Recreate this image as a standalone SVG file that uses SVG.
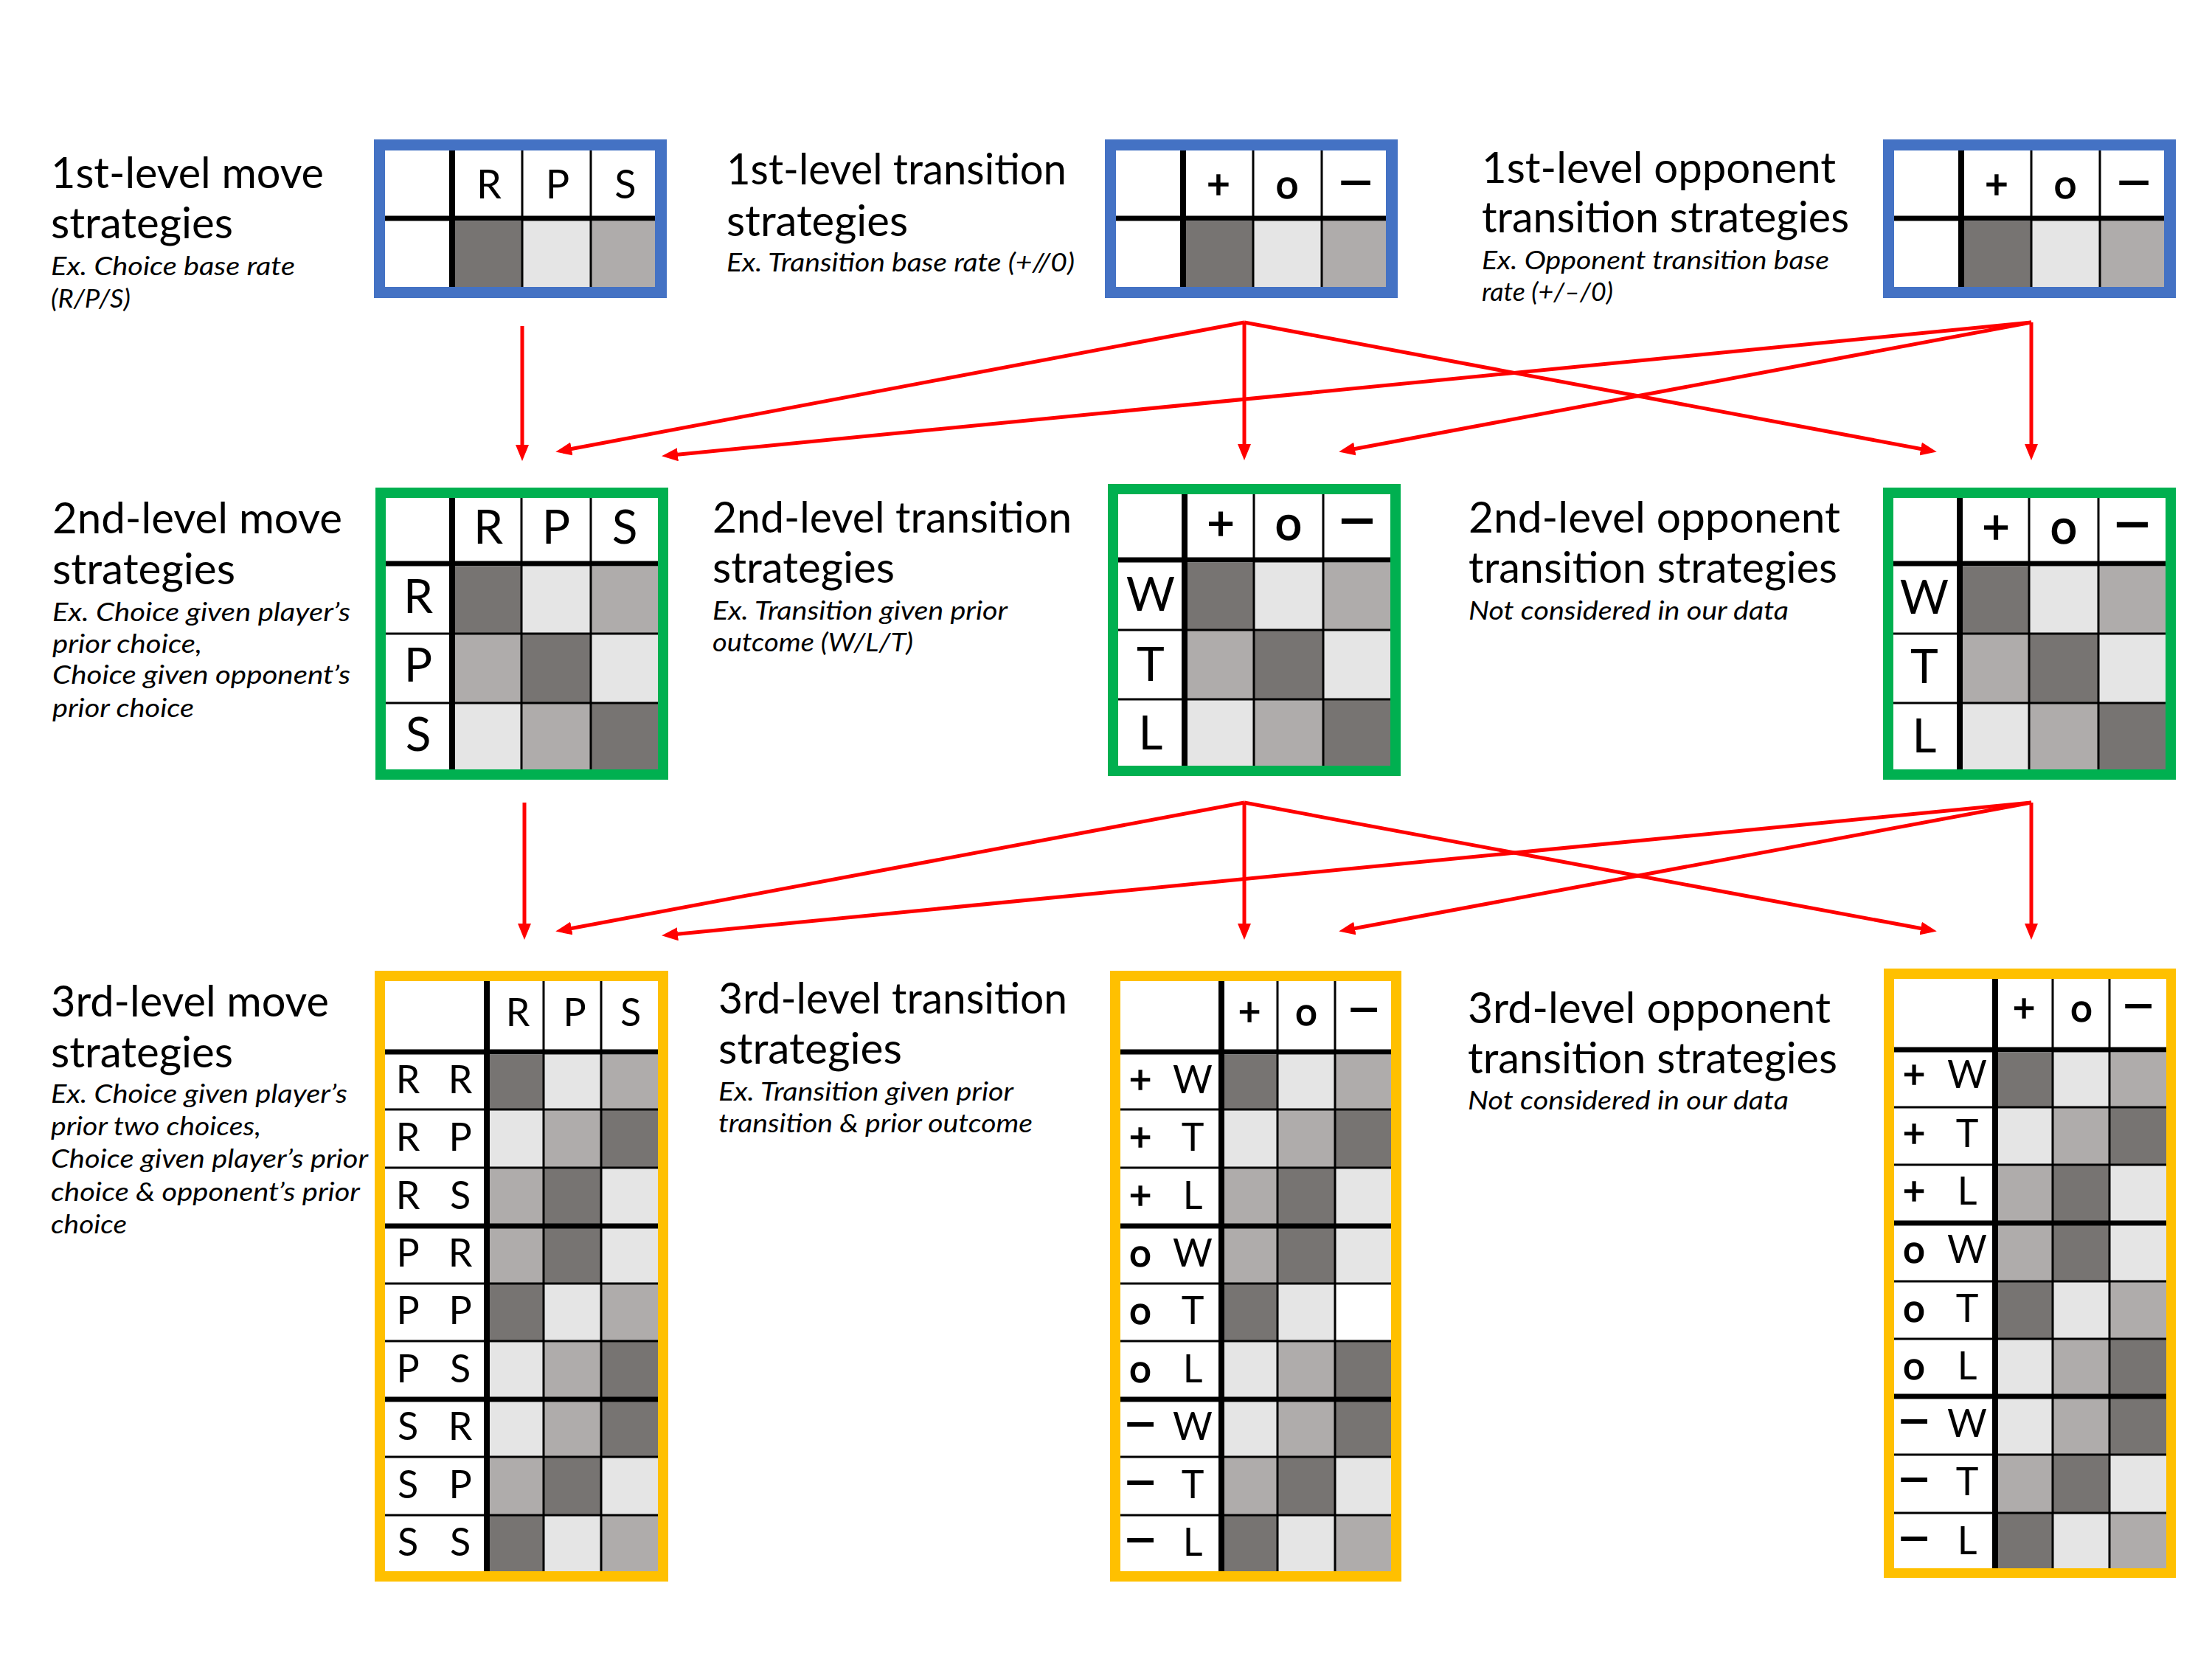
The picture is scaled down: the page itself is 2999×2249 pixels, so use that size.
<svg xmlns="http://www.w3.org/2000/svg" width="2999" height="2249" viewBox="0 0 2999 2249">
<style>
.t{font-family:Lato,"Open Sans","Liberation Sans",sans-serif;font-size:58px;fill:#000}
.s{font-family:Lato,"Open Sans","Liberation Sans",sans-serif;font-size:35px;font-style:italic;fill:#000}
.h1{font-family:Lato,"Open Sans","Liberation Sans",sans-serif;font-size:54px;text-anchor:middle;fill:#000}
.h2{font-family:Lato,"Open Sans","Liberation Sans",sans-serif;font-size:64px;text-anchor:middle;fill:#000}
.h3{font-family:Lato,"Open Sans","Liberation Sans",sans-serif;font-size:52px;text-anchor:middle;fill:#000}
.sym{stroke:#000;stroke-width:1.5}
.blue{fill:#4472C4}.green{fill:#00B050}.yellow{fill:#FFC000}
.w{fill:#fff}.dk{fill:#777472}.lt{fill:#E5E5E5}.md{fill:#AFACAB}
.thin{stroke:#000;stroke-width:3}
.thick{stroke:#000;stroke-width:7}
.vthick{stroke:#000;stroke-width:8}
.arr{stroke:#FF0000;stroke-width:5;fill:none;marker-end:url(#ah)}
</style>
<defs>
<marker id="ah" markerUnits="userSpaceOnUse" markerWidth="22" markerHeight="18" refX="8" refY="9" orient="auto">
<path d="M0,0 L22,9 L0,18 z" fill="#FF0000"/>
</marker>
</defs>
<rect width="2999" height="2249" fill="#fff"/>

<!-- Row 1 labels -->
<g id="label-1-move">
<text class="t" x="69" y="255" textLength="370" lengthAdjust="spacingAndGlyphs">1st-level move</text>
<text class="t" x="69" y="323" textLength="247" lengthAdjust="spacingAndGlyphs">strategies</text>
<text class="s" x="69" y="373" textLength="331" lengthAdjust="spacingAndGlyphs">Ex. Choice base rate</text>
<text class="s" x="69" y="417" textLength="108" lengthAdjust="spacingAndGlyphs">(R/P/S)</text>
</g>
<g id="label-1-transition">
<text class="t" x="985" y="250" textLength="461" lengthAdjust="spacingAndGlyphs">1st-level transition</text>
<text class="t" x="985" y="320" textLength="246" lengthAdjust="spacingAndGlyphs">strategies</text>
<text class="s" x="985" y="368" textLength="472" lengthAdjust="spacingAndGlyphs">Ex. Transition base rate (+//0)</text>
</g>
<g id="label-1-opponent">
<text class="t" x="2009" y="248" textLength="480" lengthAdjust="spacingAndGlyphs">1st-level opponent</text>
<text class="t" x="2009" y="315" textLength="498" lengthAdjust="spacingAndGlyphs">transition strategies</text>
<text class="s" x="2009" y="365" textLength="471" lengthAdjust="spacingAndGlyphs">Ex. Opponent transition base</text>
<text class="s" x="2009" y="408" textLength="178" lengthAdjust="spacingAndGlyphs">rate (+/–/0)</text>
</g>

<!-- Row 1 tables -->
<g id="table-1-move" transform="translate(507,189)">
<rect class="blue" width="397" height="215"/><rect class="w" x="15" y="15" width="366" height="185"/>
<rect class="dk" x="110" y="111" width="91" height="89"/><rect class="lt" x="201" y="111" width="93" height="89"/><rect class="md" x="294" y="111" width="87" height="89"/>
<line class="thin" x1="201" y1="15" x2="201" y2="200"/><line class="thin" x1="294" y1="15" x2="294" y2="200"/>
<line class="vthick" x1="106" y1="15" x2="106" y2="200"/><line class="thick" x1="15" y1="107" x2="381" y2="107"/>
<text class="h1" x="156" y="80">R</text><text class="h1" x="249" y="80">P</text><text class="h1" x="341" y="80">S</text>
</g>
<g id="table-1-transition" transform="translate(1498,189)">
<rect class="blue" width="397" height="215"/><rect class="w" x="15" y="15" width="366" height="185"/>
<rect class="dk" x="110" y="111" width="91" height="89"/><rect class="lt" x="201" y="111" width="93" height="89"/><rect class="md" x="294" y="111" width="87" height="89"/>
<line class="thin" x1="201" y1="15" x2="201" y2="200"/><line class="thin" x1="294" y1="15" x2="294" y2="200"/>
<line class="vthick" x1="106" y1="15" x2="106" y2="200"/><line class="thick" x1="15" y1="107" x2="381" y2="107"/>
<text class="h1 sym" x="154" y="80">+</text><text class="h1 sym" x="247" y="80">o</text><text class="h1 sym" transform="translate(340,80) scale(1.6,1.2)">−</text>
</g>
<g id="table-1-opponent" transform="translate(2553,189)">
<rect class="blue" width="397" height="215"/><rect class="w" x="15" y="15" width="366" height="185"/>
<rect class="dk" x="110" y="111" width="91" height="89"/><rect class="lt" x="201" y="111" width="93" height="89"/><rect class="md" x="294" y="111" width="87" height="89"/>
<line class="thin" x1="201" y1="15" x2="201" y2="200"/><line class="thin" x1="294" y1="15" x2="294" y2="200"/>
<line class="vthick" x1="106" y1="15" x2="106" y2="200"/><line class="thick" x1="15" y1="107" x2="381" y2="107"/>
<text class="h1 sym" x="154" y="80">+</text><text class="h1 sym" x="247" y="80">o</text><text class="h1 sym" transform="translate(340,80) scale(1.6,1.2)">−</text>
</g>

<!-- Row 2 labels -->
<g id="label-2-move">
<text class="t" x="71" y="723" textLength="393" lengthAdjust="spacingAndGlyphs">2nd-level move</text>
<text class="t" x="71" y="792" textLength="248" lengthAdjust="spacingAndGlyphs">strategies</text>
<text class="s" x="71" y="842" textLength="404" lengthAdjust="spacingAndGlyphs">Ex. Choice given player’s</text>
<text class="s" x="71" y="885" textLength="203" lengthAdjust="spacingAndGlyphs">prior choice,</text>
<text class="s" x="71" y="927" textLength="404" lengthAdjust="spacingAndGlyphs">Choice given opponent’s</text>
<text class="s" x="71" y="972" textLength="192" lengthAdjust="spacingAndGlyphs">prior choice</text>
</g>
<g id="label-2-transition">
<text class="t" x="966" y="722" textLength="487" lengthAdjust="spacingAndGlyphs">2nd-level transition</text>
<text class="t" x="966" y="790" textLength="247" lengthAdjust="spacingAndGlyphs">strategies</text>
<text class="s" x="966" y="840" textLength="400" lengthAdjust="spacingAndGlyphs">Ex. Transition given prior</text>
<text class="s" x="966" y="883" textLength="272" lengthAdjust="spacingAndGlyphs">outcome (W/L/T)</text>
</g>
<g id="label-2-opponent">
<text class="t" x="1991" y="722" textLength="504" lengthAdjust="spacingAndGlyphs">2nd-level opponent</text>
<text class="t" x="1991" y="790" textLength="500" lengthAdjust="spacingAndGlyphs">transition strategies</text>
<text class="s" x="1991" y="840" textLength="434" lengthAdjust="spacingAndGlyphs">Not considered in our data</text>
</g>

<!-- Row 2 tables -->
<g id="table-2-move" transform="translate(509,661)">
<rect class="green" width="397" height="396"/><rect class="w" x="14" y="14" width="369" height="368"/>
<rect class="dk" x="108" y="107" width="90" height="91"/><rect class="lt" x="198" y="107" width="94" height="91"/><rect class="md" x="292" y="107" width="91" height="91"/>
<rect class="md" x="108" y="198" width="90" height="94"/><rect class="dk" x="198" y="198" width="94" height="94"/><rect class="lt" x="292" y="198" width="91" height="94"/>
<rect class="lt" x="108" y="292" width="90" height="90"/><rect class="md" x="198" y="292" width="94" height="90"/><rect class="dk" x="292" y="292" width="91" height="90"/>
<line class="thin" x1="198" y1="14" x2="198" y2="382"/><line class="thin" x1="292" y1="14" x2="292" y2="382"/>
<line class="thin" x1="14" y1="198" x2="383" y2="198"/><line class="thin" x1="14" y1="292" x2="383" y2="292"/>
<line class="vthick" x1="104" y1="14" x2="104" y2="382"/><line class="thick" x1="14" y1="103" x2="383" y2="103"/>
<text class="h2" x="153" y="76">R</text><text class="h2" x="245" y="76">P</text><text class="h2" x="338" y="76">S</text>
<text class="h2" x="58" y="170">R</text><text class="h2" x="58" y="263">P</text><text class="h2" x="58" y="357">S</text>
</g>
<g id="table-2-transition" transform="translate(1502,656)">
<rect class="green" width="397" height="396"/><rect class="w" x="14" y="14" width="369" height="368"/>
<rect class="dk" x="108" y="107" width="90" height="91"/><rect class="lt" x="198" y="107" width="94" height="91"/><rect class="md" x="292" y="107" width="91" height="91"/>
<rect class="md" x="108" y="198" width="90" height="94"/><rect class="dk" x="198" y="198" width="94" height="94"/><rect class="lt" x="292" y="198" width="91" height="94"/>
<rect class="lt" x="108" y="292" width="90" height="90"/><rect class="md" x="198" y="292" width="94" height="90"/><rect class="dk" x="292" y="292" width="91" height="90"/>
<line class="thin" x1="198" y1="14" x2="198" y2="382"/><line class="thin" x1="292" y1="14" x2="292" y2="382"/>
<line class="thin" x1="14" y1="198" x2="383" y2="198"/><line class="thin" x1="14" y1="292" x2="383" y2="292"/>
<line class="vthick" x1="104" y1="14" x2="104" y2="382"/><line class="thick" x1="14" y1="103" x2="383" y2="103"/>
<text class="h2 sym" x="153" y="76">+</text><text class="h2 sym" x="245" y="76">o</text><text class="h2 sym" transform="translate(338,76) scale(1.45,1.2)">−</text>
<text class="h2" x="58" y="172">W</text><text class="h2" x="58" y="267">T</text><text class="h2" x="58" y="360">L</text>
</g>
<g id="table-2-opponent" transform="translate(2553,661)">
<rect class="green" width="397" height="396"/><rect class="w" x="14" y="14" width="369" height="368"/>
<rect class="dk" x="108" y="107" width="90" height="91"/><rect class="lt" x="198" y="107" width="94" height="91"/><rect class="md" x="292" y="107" width="91" height="91"/>
<rect class="md" x="108" y="198" width="90" height="94"/><rect class="dk" x="198" y="198" width="94" height="94"/><rect class="lt" x="292" y="198" width="91" height="94"/>
<rect class="lt" x="108" y="292" width="90" height="90"/><rect class="md" x="198" y="292" width="94" height="90"/><rect class="dk" x="292" y="292" width="91" height="90"/>
<line class="thin" x1="198" y1="14" x2="198" y2="382"/><line class="thin" x1="292" y1="14" x2="292" y2="382"/>
<line class="thin" x1="14" y1="198" x2="383" y2="198"/><line class="thin" x1="14" y1="292" x2="383" y2="292"/>
<line class="vthick" x1="104" y1="14" x2="104" y2="382"/><line class="thick" x1="14" y1="103" x2="383" y2="103"/>
<text class="h2 sym" x="153" y="76">+</text><text class="h2 sym" x="245" y="76">o</text><text class="h2 sym" transform="translate(338,76) scale(1.45,1.2)">−</text>
<text class="h2" x="56" y="171">W</text><text class="h2" x="56" y="265">T</text><text class="h2" x="56" y="359">L</text>
</g>

<!-- Row 3 labels -->
<g id="label-3-move">
<text class="t" x="69" y="1378" textLength="377" lengthAdjust="spacingAndGlyphs">3rd-level move</text>
<text class="t" x="69" y="1447" textLength="247" lengthAdjust="spacingAndGlyphs">strategies</text>
<text class="s" x="69" y="1495" textLength="402" lengthAdjust="spacingAndGlyphs">Ex. Choice given player’s</text>
<text class="s" x="69" y="1539" textLength="285" lengthAdjust="spacingAndGlyphs">prior two choices,</text>
<text class="s" x="69" y="1583" textLength="430" lengthAdjust="spacingAndGlyphs">Choice given player’s prior</text>
<text class="s" x="69" y="1628" textLength="419" lengthAdjust="spacingAndGlyphs">choice &amp; opponent’s prior</text>
<text class="s" x="69" y="1672" textLength="103" lengthAdjust="spacingAndGlyphs">choice</text>
</g>
<g id="label-3-transition">
<text class="t" x="974" y="1374" textLength="473" lengthAdjust="spacingAndGlyphs">3rd-level transition</text>
<text class="t" x="974" y="1442" textLength="249" lengthAdjust="spacingAndGlyphs">strategies</text>
<text class="s" x="974" y="1492" textLength="400" lengthAdjust="spacingAndGlyphs">Ex. Transition given prior</text>
<text class="s" x="974" y="1535" textLength="426" lengthAdjust="spacingAndGlyphs">transition &amp; prior outcome</text>
</g>
<g id="label-3-opponent">
<text class="t" x="1990" y="1387" textLength="492" lengthAdjust="spacingAndGlyphs">3rd-level opponent</text>
<text class="t" x="1990" y="1455" textLength="501" lengthAdjust="spacingAndGlyphs">transition strategies</text>
<text class="s" x="1990" y="1504" textLength="435" lengthAdjust="spacingAndGlyphs">Not considered in our data</text>
</g>

<!-- Row 3 tables -->
<g id="table-3-move" transform="translate(508,1316)">
<rect class="yellow" width="398" height="828"/><rect class="w" x="14" y="14" width="370" height="800"/>
<rect class="dk" x="156" y="114" width="73" height="74"/><rect class="lt" x="229" y="114" width="78" height="74"/><rect class="md" x="307" y="114" width="77" height="74"/>
<rect class="lt" x="156" y="188" width="73" height="79"/><rect class="md" x="229" y="188" width="78" height="79"/><rect class="dk" x="307" y="188" width="77" height="79"/>
<rect class="md" x="156" y="267" width="73" height="79"/><rect class="dk" x="229" y="267" width="78" height="79"/><rect class="lt" x="307" y="267" width="77" height="79"/>
<rect class="md" x="156" y="346" width="73" height="78"/><rect class="dk" x="229" y="346" width="78" height="78"/><rect class="lt" x="307" y="346" width="77" height="78"/>
<rect class="dk" x="156" y="424" width="73" height="78"/><rect class="lt" x="229" y="424" width="78" height="78"/><rect class="md" x="307" y="424" width="77" height="78"/>
<rect class="lt" x="156" y="502" width="73" height="79"/><rect class="md" x="229" y="502" width="78" height="79"/><rect class="dk" x="307" y="502" width="77" height="79"/>
<rect class="lt" x="156" y="581" width="73" height="78"/><rect class="md" x="229" y="581" width="78" height="78"/><rect class="dk" x="307" y="581" width="77" height="78"/>
<rect class="md" x="156" y="659" width="73" height="79"/><rect class="dk" x="229" y="659" width="78" height="79"/><rect class="lt" x="307" y="659" width="77" height="79"/>
<rect class="dk" x="156" y="738" width="73" height="76"/><rect class="lt" x="229" y="738" width="78" height="76"/><rect class="md" x="307" y="738" width="77" height="76"/>
<line class="thin" x1="229" y1="14" x2="229" y2="814"/><line class="thin" x1="307" y1="14" x2="307" y2="814"/>
<line class="thin" x1="14" y1="188" x2="384" y2="188"/><line class="thin" x1="14" y1="267" x2="384" y2="267"/>
<line class="thin" x1="14" y1="424" x2="384" y2="424"/><line class="thin" x1="14" y1="502" x2="384" y2="502"/>
<line class="thin" x1="14" y1="659" x2="384" y2="659"/><line class="thin" x1="14" y1="738" x2="384" y2="738"/>
<line class="thick" x1="14" y1="346" x2="384" y2="346"/><line class="thick" x1="14" y1="581" x2="384" y2="581"/>
<line class="vthick" x1="152" y1="14" x2="152" y2="814"/><line class="thick" x1="14" y1="110" x2="384" y2="110"/>
<text class="h3" x="194" y="75">R</text><text class="h3" x="271" y="75">P</text><text class="h3" x="347" y="75">S</text>
<text class="h3" x="45" y="166">R</text><text class="h3" x="116" y="166">R</text>
<text class="h3" x="45" y="244">R</text><text class="h3" x="116" y="244">P</text>
<text class="h3" x="45" y="323">R</text><text class="h3" x="116" y="323">S</text>
<text class="h3" x="45" y="401">P</text><text class="h3" x="116" y="401">R</text>
<text class="h3" x="45" y="479">P</text><text class="h3" x="116" y="479">P</text>
<text class="h3" x="45" y="558">P</text><text class="h3" x="116" y="558">S</text>
<text class="h3" x="45" y="636">S</text><text class="h3" x="116" y="636">R</text>
<text class="h3" x="45" y="715">S</text><text class="h3" x="116" y="715">P</text>
<text class="h3" x="45" y="793">S</text><text class="h3" x="116" y="793">S</text>
</g>
<g id="table-3-transition" transform="translate(1505,1316)">
<rect class="yellow" width="395" height="828"/><rect class="w" x="14" y="14" width="367" height="800"/>
<rect class="dk" x="155" y="114" width="72" height="74"/><rect class="lt" x="227" y="114" width="78" height="74"/><rect class="md" x="305" y="114" width="76" height="74"/>
<rect class="lt" x="155" y="188" width="72" height="79"/><rect class="md" x="227" y="188" width="78" height="79"/><rect class="dk" x="305" y="188" width="76" height="79"/>
<rect class="md" x="155" y="267" width="72" height="79"/><rect class="dk" x="227" y="267" width="78" height="79"/><rect class="lt" x="305" y="267" width="76" height="79"/>
<rect class="md" x="155" y="346" width="72" height="78"/><rect class="dk" x="227" y="346" width="78" height="78"/><rect class="lt" x="305" y="346" width="76" height="78"/>
<rect class="dk" x="155" y="424" width="72" height="78"/><rect class="lt" x="227" y="424" width="78" height="78"/><rect class="w" x="305" y="424" width="76" height="78"/>
<rect class="lt" x="155" y="502" width="72" height="79"/><rect class="md" x="227" y="502" width="78" height="79"/><rect class="dk" x="305" y="502" width="76" height="79"/>
<rect class="lt" x="155" y="581" width="72" height="78"/><rect class="md" x="227" y="581" width="78" height="78"/><rect class="dk" x="305" y="581" width="76" height="78"/>
<rect class="md" x="155" y="659" width="72" height="79"/><rect class="dk" x="227" y="659" width="78" height="79"/><rect class="lt" x="305" y="659" width="76" height="79"/>
<rect class="dk" x="155" y="738" width="72" height="76"/><rect class="lt" x="227" y="738" width="78" height="76"/><rect class="md" x="305" y="738" width="76" height="76"/>
<line class="thin" x1="227" y1="14" x2="227" y2="814"/><line class="thin" x1="305" y1="14" x2="305" y2="814"/>
<line class="thin" x1="14" y1="188" x2="381" y2="188"/><line class="thin" x1="14" y1="267" x2="381" y2="267"/>
<line class="thin" x1="14" y1="424" x2="381" y2="424"/><line class="thin" x1="14" y1="502" x2="381" y2="502"/>
<line class="thin" x1="14" y1="659" x2="381" y2="659"/><line class="thin" x1="14" y1="738" x2="381" y2="738"/>
<line class="thick" x1="14" y1="346" x2="381" y2="346"/><line class="thick" x1="14" y1="581" x2="381" y2="581"/>
<line class="vthick" x1="151" y1="14" x2="151" y2="814"/><line class="thick" x1="14" y1="110" x2="381" y2="110"/>
<text class="h3 sym" x="189" y="74">+</text><text class="h3 sym" x="266" y="74">o</text><text class="h3 sym" transform="translate(344,74) scale(1.5,1.2)">−</text>
<text class="h3 sym" x="41" y="166">+</text><text class="h3" x="112" y="166">W</text>
<text class="h3 sym" x="41" y="244">+</text><text class="h3" x="112" y="244">T</text>
<text class="h3 sym" x="41" y="323">+</text><text class="h3" x="112" y="323">L</text>
<text class="h3 sym" x="41" y="401">o</text><text class="h3" x="112" y="401">W</text>
<text class="h3 sym" x="41" y="479">o</text><text class="h3" x="112" y="479">T</text>
<text class="h3 sym" x="41" y="558">o</text><text class="h3" x="112" y="558">L</text>
<text class="h3 sym" transform="translate(41,636) scale(1.5,1.2)">−</text><text class="h3" x="112" y="636">W</text>
<text class="h3 sym" transform="translate(41,715) scale(1.5,1.2)">−</text><text class="h3" x="112" y="715">T</text>
<text class="h3 sym" transform="translate(41,793) scale(1.5,1.2)">−</text><text class="h3" x="112" y="793">L</text>
</g>
<g id="table-3-opponent" transform="translate(2554,1313)">
<rect class="yellow" width="396" height="826"/><rect class="w" x="14" y="14" width="369" height="799"/>
<rect class="dk" x="155" y="114" width="74" height="74"/><rect class="lt" x="229" y="114" width="77" height="74"/><rect class="md" x="306" y="114" width="77" height="74"/>
<rect class="lt" x="155" y="188" width="74" height="78"/><rect class="md" x="229" y="188" width="77" height="78"/><rect class="dk" x="306" y="188" width="77" height="78"/>
<rect class="md" x="155" y="266" width="74" height="79"/><rect class="dk" x="229" y="266" width="77" height="79"/><rect class="lt" x="306" y="266" width="77" height="79"/>
<rect class="md" x="155" y="345" width="74" height="79"/><rect class="dk" x="229" y="345" width="77" height="79"/><rect class="lt" x="306" y="345" width="77" height="79"/>
<rect class="dk" x="155" y="424" width="74" height="78"/><rect class="lt" x="229" y="424" width="77" height="78"/><rect class="md" x="306" y="424" width="77" height="78"/>
<rect class="lt" x="155" y="502" width="74" height="78"/><rect class="md" x="229" y="502" width="77" height="78"/><rect class="dk" x="306" y="502" width="77" height="78"/>
<rect class="lt" x="155" y="580" width="74" height="79"/><rect class="md" x="229" y="580" width="77" height="79"/><rect class="dk" x="306" y="580" width="77" height="79"/>
<rect class="md" x="155" y="659" width="74" height="79"/><rect class="dk" x="229" y="659" width="77" height="79"/><rect class="lt" x="306" y="659" width="77" height="79"/>
<rect class="dk" x="155" y="738" width="74" height="75"/><rect class="lt" x="229" y="738" width="77" height="75"/><rect class="md" x="306" y="738" width="77" height="75"/>
<line class="thin" x1="229" y1="14" x2="229" y2="813"/><line class="thin" x1="306" y1="14" x2="306" y2="813"/>
<line class="thin" x1="14" y1="188" x2="383" y2="188"/><line class="thin" x1="14" y1="266" x2="383" y2="266"/>
<line class="thin" x1="14" y1="424" x2="383" y2="424"/><line class="thin" x1="14" y1="502" x2="383" y2="502"/>
<line class="thin" x1="14" y1="659" x2="383" y2="659"/><line class="thin" x1="14" y1="738" x2="383" y2="738"/>
<line class="thick" x1="14" y1="345" x2="383" y2="345"/><line class="thick" x1="14" y1="580" x2="383" y2="580"/>
<line class="vthick" x1="151" y1="14" x2="151" y2="813"/><line class="thick" x1="14" y1="110" x2="383" y2="110"/>
<text class="h3 sym" x="190" y="72">+</text><text class="h3 sym" x="268" y="72">o</text><text class="h3 sym" transform="translate(345,72) scale(1.5,1.2)">−</text>
<text class="h3 sym" x="41" y="162">+</text><text class="h3" x="113" y="162">W</text>
<text class="h3 sym" x="41" y="242">+</text><text class="h3" x="113" y="242">T</text>
<text class="h3 sym" x="41" y="320">+</text><text class="h3" x="113" y="320">L</text>
<text class="h3 sym" x="41" y="399">o</text><text class="h3" x="113" y="399">W</text>
<text class="h3 sym" x="41" y="479">o</text><text class="h3" x="113" y="479">T</text>
<text class="h3 sym" x="41" y="557">o</text><text class="h3" x="113" y="557">L</text>
<text class="h3 sym" transform="translate(41,635) scale(1.5,1.2)">−</text><text class="h3" x="113" y="635">W</text>
<text class="h3 sym" transform="translate(41,714) scale(1.5,1.2)">−</text><text class="h3" x="113" y="714">T</text>
<text class="h3 sym" transform="translate(41,794) scale(1.5,1.2)">−</text><text class="h3" x="113" y="794">L</text>
</g>

<!-- Connectors -->
<g id="connectors">
<line class="arr" x1="708" y1="442" x2="708" y2="611"/>
<line class="arr" x1="1687" y1="437" x2="767" y2="610"/>
<line class="arr" x1="1687" y1="437" x2="1687" y2="610"/>
<line class="arr" x1="1687" y1="437" x2="2612" y2="610"/>
<line class="arr" x1="2754" y1="437" x2="911" y2="617"/>
<line class="arr" x1="2754" y1="437" x2="1829" y2="610"/>
<line class="arr" x1="2754" y1="437" x2="2754" y2="610"/>
<line class="arr" x1="711" y1="1088" x2="711" y2="1260"/>
<line class="arr" x1="1687" y1="1088" x2="767" y2="1260"/>
<line class="arr" x1="1687" y1="1088" x2="1687" y2="1260"/>
<line class="arr" x1="1687" y1="1088" x2="2612" y2="1260"/>
<line class="arr" x1="2754" y1="1088" x2="911" y2="1267"/>
<line class="arr" x1="2754" y1="1088" x2="1829" y2="1260"/>
<line class="arr" x1="2754" y1="1088" x2="2754" y2="1260"/>
</g>
</svg>
